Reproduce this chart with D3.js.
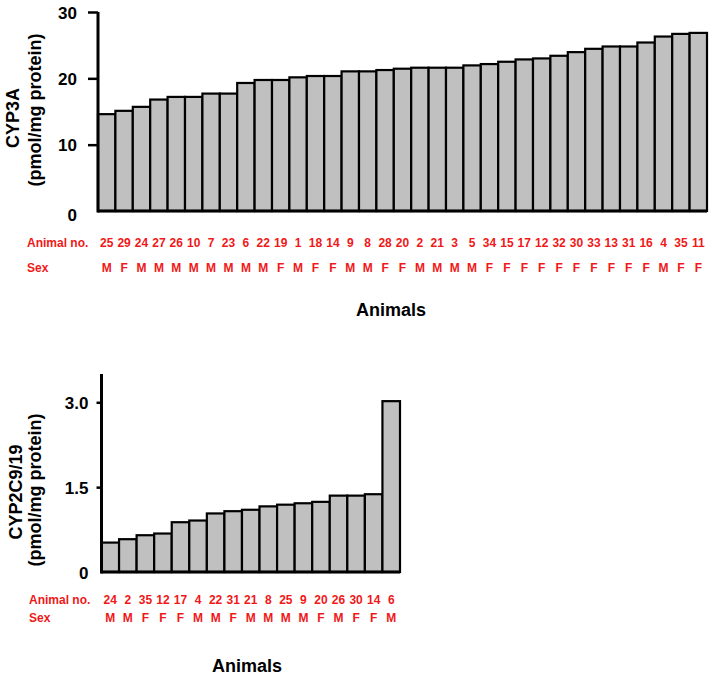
<!DOCTYPE html>
<html>
<head>
<meta charset="utf-8">
<script src="https://cdn.jsdelivr.net/npm/d3@7"></script>
<style>
  html, body { margin: 0; padding: 0; background: #fff; }
  svg text { font-family: "Liberation Sans", Arial, sans-serif; font-weight: bold; }
</style>
</head>
<body>
<svg id="chart" width="714" height="679"></svg>
<script>
// ---- Data: CYP3A (top panel) ----
const cyp3aAnimals = ["25","29","24","27","26","10","7","23","6","22","19","1","18","14","9","8","28","20","2","21","3","5","34","15","17","12","32","30","33","13","31","16","4","35","11"];
const cyp3aSex = ["M","F","M","M","M","M","M","M","M","M","F","M","F","F","M","M","F","F","M","M","M","M","F","F","F","F","F","F","F","F","F","F","M","F","F"];
const cyp3aValues = [14.6,15.1,15.7,16.8,17.2,17.2,17.7,17.7,19.3,19.75,19.75,20.15,20.35,20.35,21.05,21.05,21.25,21.45,21.6,21.6,21.6,21.95,22.15,22.5,22.85,23.0,23.4,23.95,24.45,24.8,24.8,25.4,26.3,26.7,26.85];
const cyp3aTicks = [0, 10, 20, 30];
const cyp3aTickLabels = ["0", "10", "20", "30"];

// ---- Data: CYP2C9/19 (bottom panel) ----
const cyp2cAnimals = ["24","2","35","12","17","4","22","31","21","8","25","9","20","26","30","14","6"];
const cyp2cSex = ["M","M","F","F","F","M","M","F","M","M","M","M","F","M","F","F","M"];
const cyp2cValues = [0.52,0.58,0.65,0.68,0.88,0.91,1.035,1.075,1.10,1.16,1.19,1.215,1.24,1.35,1.35,1.375,3.02];
const cyp2cTicks = [0, 1.5, 3.0];
const cyp2cTickLabels = ["0", "1.5", "3.0"];

const svg = d3.select("#chart");
const RED = "#f01818";
const BAR_FILL = "#c0c0c0";

function panel(cfg) {
  const g = svg.append("g");
  const x = d3.scaleBand().domain(d3.range(cfg.values.length)).range([cfg.x0, cfg.x1]).padding(0);
  const y = d3.scaleLinear().domain(cfg.domain).range([cfg.yBase, cfg.yTop]);

  // bars
  g.selectAll("rect.bar").data(cfg.values).join("rect")
    .attr("class", "bar")
    .attr("x", (d, i) => x(i))
    .attr("y", d => y(d))
    .attr("width", x.bandwidth())
    .attr("height", d => y(0) - y(d))
    .attr("fill", BAR_FILL)
    .attr("stroke", "#000")
    .attr("stroke-width", 2.2);

  // baseline
  g.append("line")
    .attr("x1", cfg.x0).attr("x2", cfg.x1)
    .attr("y1", y(0)).attr("y2", y(0))
    .attr("stroke", "#000").attr("stroke-width", 3);

  // y axis
  const axis = d3.axisLeft(y)
    .tickValues(cfg.ticks)
    .tickFormat((d, i) => cfg.tickLabels[i])
    .tickSize(cfg.tickLen)
    .tickSizeOuter(0)
    .tickPadding(0);
  const ag = g.append("g").attr("transform", `translate(${cfg.x0},0)`).call(axis);
  ag.select(".domain").remove();
  ag.append("line")
    .attr("x1", 0).attr("x2", 0)
    .attr("y1", cfg.yTop).attr("y2", y(0) + 1.5)
    .attr("stroke", "#000").attr("stroke-width", 3);
  ag.selectAll(".tick line").attr("stroke", "#000").attr("stroke-width", 2.5)
    .attr("display", d => d === 0 ? "none" : null);
  ag.selectAll(".tick text")
    .attr("fill", "#000")
    .style("font-size", "17px")
    .style("font-family", "'Liberation Sans', Arial, sans-serif")
    .style("font-weight", "bold")
    .attr("x", -(cfg.labelGap))
    .attr("dy", d => d === 0 ? cfg.zeroDy : "0.36em");

  // y title
  const t = g.append("text")
    .attr("transform", `rotate(-90)`)
    .attr("text-anchor", "middle")
    .style("font-size", "18px")
    .attr("fill", "#000");
  t.append("tspan").attr("x", -cfg.title1Y).attr("y", cfg.title1X + 6).text(cfg.title1);
  t.append("tspan").attr("x", -cfg.title2Y).attr("y", cfg.title2X + 6).text(cfg.title2);

  // category label rows
  g.append("text").attr("x", cfg.rowLabelX).attr("y", cfg.row1Y).attr("dy", "0.36em")
    .attr("fill", RED).style("font-size", "12px").text("Animal no.");
  g.append("text").attr("x", cfg.rowLabelX).attr("y", cfg.row2Y).attr("dy", "0.36em")
    .attr("fill", RED).style("font-size", "12px").text("Sex");
  g.selectAll("text.anim").data(cfg.animals).join("text")
    .attr("class", "anim")
    .attr("x", (d, i) => x(i) + x.bandwidth() / 2)
    .attr("y", cfg.row1Y).attr("dy", "0.36em")
    .attr("text-anchor", "middle")
    .attr("fill", RED).style("font-size", "12px").text(d => d);
  g.selectAll("text.sex").data(cfg.sex).join("text")
    .attr("class", "sex")
    .attr("x", (d, i) => x(i) + x.bandwidth() / 2)
    .attr("y", cfg.row2Y).attr("dy", "0.36em")
    .attr("text-anchor", "middle")
    .attr("fill", RED).style("font-size", "12px").text(d => d);

  // x title
  g.append("text").attr("x", cfg.xTitleX).attr("y", cfg.xTitleY).attr("dy", "0.36em")
    .attr("text-anchor", "middle").style("font-size", "18px").attr("fill", "#000").text("Animals");
}

panel({
  values: cyp3aValues, animals: cyp3aAnimals, sex: cyp3aSex,
  ticks: cyp3aTicks, tickLabels: cyp3aTickLabels, domain: [0, 30],
  x0: 98, x1: 707, yBase: 211, yTop: 12,
  tickLen: 10, labelGap: 21, zeroDy: "0.55em",
  title1: "CYP3A", title1X: 13, title1Y: 118,
  title2: "(pmol/mg protein)", title2X: 35, title2Y: 110,
  rowLabelX: 27, row1Y: 243, row2Y: 268,
  xTitleX: 391, xTitleY: 310
});

panel({
  values: cyp2cValues, animals: cyp2cAnimals, sex: cyp2cSex,
  ticks: cyp2cTicks, tickLabels: cyp2cTickLabels, domain: [0, 3.5],
  x0: 101.5, x1: 400, yBase: 572, yTop: 374,
  tickLen: 5, labelGap: 13, zeroDy: "0.36em",
  title1: "CYP2C9/19", title1X: 16, title1Y: 492,
  title2: "(pmol/mg protein)", title2X: 35, title2Y: 490,
  rowLabelX: 29, row1Y: 600, row2Y: 618,
  xTitleX: 247, xTitleY: 666
});
</script>
</body>
</html>
